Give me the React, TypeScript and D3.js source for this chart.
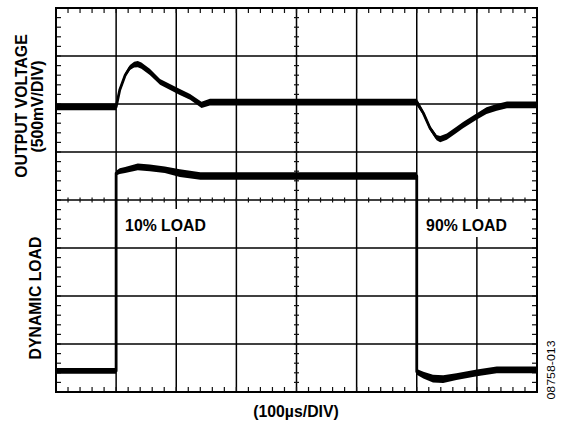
import * as d3 from "d3";

// scope screen: 8 x 8 divisions, time in µs, level in divisions
const X_DIVS = d3.range(0, 801, 100);
const Y_DIVS = d3.range(-4, 5, 1);
const MINOR_X = d3.range(0, 801, 20);
const MINOR_Y = d3.range(-4, 4.01, 0.2);

// channel 1: output voltage (500mV/DIV)
const vT = [0, 100, 106, 115, 123, 130, 136, 142, 156, 173, 206, 223, 242, 256, 600, 611, 622, 633, 639, 650, 666, 677, 700, 716, 733, 750, 800];
const vV = [1.94, 1.94, 2.29, 2.6, 2.76, 2.82, 2.83, 2.8, 2.67, 2.46, 2.25, 2.15, 1.98, 2.04, 2.04, 1.81, 1.5, 1.3, 1.27, 1.32, 1.46, 1.56, 1.74, 1.86, 1.93, 1.98, 1.98];
const vN = [0.07, 0.07, 0.045, 0.045, 0.05, 0.06, 0.065, 0.065, 0.065, 0.06, 0.06, 0.06, 0.065, 0.07, 0.07, 0.045, 0.045, 0.055, 0.065, 0.065, 0.065, 0.065, 0.065, 0.07, 0.07, 0.07, 0.07];

// channel 2: dynamic load
const lT = [0, 100, 100, 106, 115, 136, 156, 181, 206, 240, 600, 600, 611, 627, 644, 666, 700, 733, 800];
const lV = [-3.56, -3.56, 0.56, 0.6, 0.625, 0.69, 0.67, 0.63, 0.56, 0.5, 0.5, -3.58, -3.65, -3.72, -3.73, -3.68, -3.6, -3.54, -3.54];
const lN = [0.06, 0.06, 0.05, 0.06, 0.06, 0.07, 0.07, 0.07, 0.08, 0.08, 0.08, 0.06, 0.07, 0.08, 0.08, 0.07, 0.07, 0.07, 0.07];

const W = 563;
const H = 424;
const LEFT = 56, RIGHT = 537, TOP = 8, BOTTOM = 392;
const FONT = "'Liberation Sans', Arial, Helvetica, sans-serif";

type Pt = { t: number; v: number; n: number };

const Trace = ({ pts, x, y }: { pts: Pt[]; x: any; y: any }) => {
  const band = d3.area<Pt>().x((d) => x(d.t)).y0((d) => y(d.v - d.n)).y1((d) => y(d.v + d.n));
  const line = d3.line<Pt>().x((d) => x(d.t)).y((d) => y(d.v));
  return (
    <g>
      <path d={band(pts) || undefined} fill="#000" />
      <path d={line(pts) || undefined} fill="none" stroke="#000" strokeWidth={2.8} strokeLinejoin="round" />
    </g>
  );
};

export default function App() {
  const x = d3.scaleLinear().domain([0, 800]).range([LEFT, RIGHT]);
  const y = d3.scaleLinear().domain([-4, 4]).range([BOTTOM, TOP]);

  const volt: Pt[] = vT.map((t, i) => ({ t, v: vV[i], n: vN[i] }));
  const load: Pt[] = lT.map((t, i) => ({ t, v: lV[i], n: lN[i] }));

  const cx = x(400);
  const cy = y(0);

  return (
    <svg width={W} height={H} style={{ position: "absolute", left: 0, top: 0, background: "#fff" }}>
      {/* grid */}
      {X_DIVS.slice(1, -1).map((d) => (
        <line key={"gx" + d} x1={x(d)} x2={x(d)} y1={TOP} y2={BOTTOM} stroke="#000" strokeWidth={1.5} />
      ))}
      {Y_DIVS.slice(1, -1).map((d) => (
        <line key={"gy" + d} x1={LEFT} x2={RIGHT} y1={y(d)} y2={y(d)} stroke="#000" strokeWidth={1.5} />
      ))}
      {/* minor ticks */}
      {MINOR_X.map((d) => (
        <g key={"mx" + d}>
          <line x1={x(d)} x2={x(d)} y1={TOP} y2={TOP + 5} stroke="#111" strokeWidth={1.2} />
          <line x1={x(d)} x2={x(d)} y1={BOTTOM} y2={BOTTOM - 5} stroke="#111" strokeWidth={1.2} />
          <line x1={x(d)} x2={x(d)} y1={cy - 2.5} y2={cy + 2.5} stroke="#111" strokeWidth={1.2} />
        </g>
      ))}
      {MINOR_Y.map((d) => (
        <g key={"my" + d}>
          <line x1={LEFT} x2={LEFT + 5} y1={y(d)} y2={y(d)} stroke="#111" strokeWidth={1.2} />
          <line x1={RIGHT} x2={RIGHT - 5} y1={y(d)} y2={y(d)} stroke="#111" strokeWidth={1.2} />
          <line x1={cx - 2.5} x2={cx + 2.5} y1={y(d)} y2={y(d)} stroke="#111" strokeWidth={1.2} />
        </g>
      ))}

      {/* label boxes */}
      <rect x={119} y={209} width={92} height={28} fill="#fff" />
      <rect x={420} y={209} width={92} height={28} fill="#fff" />
      <g fontFamily={FONT} fontWeight="bold" fontSize={15.8} fill="#000">
        <text x={165.5} y={230.7} textAnchor="middle">10% LOAD</text>
        <text x={466.5} y={230.7} textAnchor="middle">90% LOAD</text>
      </g>

      <Trace pts={volt} x={x} y={y} />
      <Trace pts={load} x={x} y={y} />

      <rect x={LEFT} y={TOP} width={RIGHT - LEFT} height={BOTTOM - TOP} fill="none" stroke="#000" strokeWidth={2} />

      {/* axis titles */}
      <g fontFamily={FONT} fontWeight="bold" fontSize={15.8} fill="#000" textAnchor="middle">
        <text transform="translate(27,106) rotate(-90)">OUTPUT VOLTAGE</text>
        <text transform="translate(42.5,106.5) rotate(-90)">(500mV/DIV)</text>
        <text transform="translate(40.5,298) rotate(-90)">DYNAMIC LOAD</text>
        <text x={296} y={417}>(100µs/DIV)</text>
      </g>
      <text transform="translate(555,370) rotate(-90)" fontFamily={FONT} fontSize={10} textAnchor="middle" textLength={59} lengthAdjust="spacingAndGlyphs" fill="#000">
        08758-013
      </text>
    </svg>
  );
}
